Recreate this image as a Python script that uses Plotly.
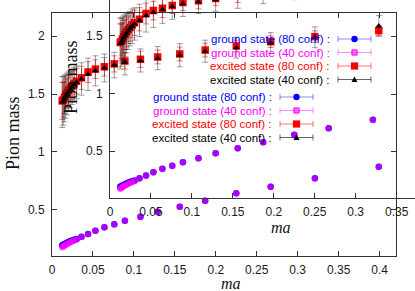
import plotly.graph_objects as go

# ---------------- data ----------------
ma = [0.0125, 0.0138, 0.0152, 0.0167, 0.0184, 0.0202, 0.0222, 0.0245, 0.027, 0.030,
      0.036, 0.044, 0.053, 0.064, 0.076, 0.089, 0.108, 0.129, 0.156, 0.187,
      0.225, 0.267, 0.321, 0.399]

ground_80 = [0.192, 0.197, 0.203, 0.209, 0.215, 0.221, 0.227, 0.233, 0.240, 0.247,
             0.267, 0.290, 0.319, 0.348, 0.374, 0.405, 0.440, 0.483, 0.526, 0.578,
             0.642, 0.699, 0.771, 0.872]
ground_40 = [0.175, 0.182, 0.190, 0.197, 0.204, 0.211, 0.218, 0.226, 0.234, 0.243,
             0.264, 0.288, 0.318, 0.347, 0.373, 0.404, 0.439, 0.482, 0.525, 0.577,
             0.641, 0.698, 0.770, 0.871]

excited_80 = [1.44, 1.45, 1.47, 1.49, 1.51, 1.53, 1.55, 1.57, 1.59, 1.61,
              1.64, 1.69, 1.715, 1.735, 1.76, 1.785, 1.80, 1.82, 1.846, 1.88,
              1.915, 1.952, 1.996, 2.047]
excited_80_err = [0.16, 0.15, 0.14, 0.14, 0.13, 0.13, 0.12, 0.12, 0.11, 0.11,
                  0.10, 0.09, 0.08, 0.08, 0.07, 0.07, 0.07, 0.06, 0.06, 0.06,
                  0.05, 0.05, 0.05, 0.04]
excited_40 = [1.43, 1.44, 1.46, 1.48, 1.50, 1.52, 1.54, 1.56, 1.58, 1.60,
              1.63, 1.67, 1.70, 1.725, 1.75, 1.775, 1.79, 1.81, 1.835, 1.87,
              1.90, 1.94, 1.99, 2.088]
excited_40_err = [0.22, 0.21, 0.20, 0.19, 0.18, 0.17, 0.16, 0.15, 0.15, 0.14,
                  0.14, 0.14, 0.13, 0.12, 0.11, 0.11, 0.10, 0.10, 0.10, 0.095,
                  0.09, 0.09, 0.09, 0.09]

series_labels = ["ground state (80 conf) :", "ground state (40 conf) :",
                 "excited state (80 conf) :", "excited state (40 conf) :"]
series_colors = ["#0000ff", "#ff00ff", "#ff0000", "#000000"]
y_title = "Pion mass"
x_title = "<i>ma</i>"

# ---------------- layout helpers ----------------
W, H = 415, 291


def px(x):
    return x / W


def py(y):
    return (H - y) / H


SANS = "Liberation Sans, Arial, sans-serif"
SERIF = "Liberation Serif, Times New Roman, serif"

fig = go.Figure()

for xa, ya in [("x", "y"), ("x2", "y2")]:
    fig.add_trace(go.Scatter(x=ma, y=ground_80, mode="markers", xaxis=xa, yaxis=ya,
                             marker=dict(color="#1a00ff", size=6.5, line=dict(width=0)),
                             showlegend=False, hoverinfo="skip"))
    fig.add_trace(go.Scatter(x=ma, y=ground_40, mode="markers", xaxis=xa, yaxis=ya,
                             marker=dict(color="rgba(255,0,255,0.62)", size=6.5, line=dict(width=0)),
                             showlegend=False, hoverinfo="skip"))
    fig.add_trace(go.Scatter(x=ma, y=excited_80, mode="markers", xaxis=xa, yaxis=ya,
                             error_y=dict(type="data", array=excited_80_err, color="rgba(220,0,0,0.5)",
                                          thickness=1, width=3),
                             marker=dict(symbol="square", color="#ff0000", size=7.5, line=dict(width=0)),
                             showlegend=False, hoverinfo="skip"))
    fig.add_trace(go.Scatter(x=ma, y=excited_40, mode="markers", xaxis=xa, yaxis=ya,
                             error_y=dict(type="data", array=excited_40_err, color="rgba(0,0,0,0.38)",
                                          thickness=1, width=3),
                             marker=dict(symbol="triangle-up", color="#000000", size=6, line=dict(width=0)),
                             showlegend=False, hoverinfo="skip"))

# pixel geometry of the two frames
MAIN_L, MAIN_R, MAIN_T, MAIN_B = 52, 396, 13, 256
X_SCALE = (MAIN_R - MAIN_L) / 0.42
Y_SCALE = (MAIN_B - MAIN_T) / 2.1
INS_L, INS_B = 110, 197.5

axis_common = dict(showgrid=False, zeroline=False, showline=True, linecolor="#333333", linewidth=1,
                   ticks="inside", ticklen=5, tickcolor="#333333", tickwidth=1,
                   tickfont=dict(family=SANS, size=12, color="#1a1a1a"), automargin=False)

fig.update_layout(
    width=W, height=H,
    margin=dict(l=0, r=0, t=0, b=0),
    paper_bgcolor="white", plot_bgcolor="rgba(0,0,0,0)",
    showlegend=False,
    xaxis=dict(domain=[px(MAIN_L), px(MAIN_R)], range=[0, 0.42], dtick=0.05, tick0=0,
               anchor="y", mirror="ticks", ticklabelstandoff=3, **axis_common),
    yaxis=dict(domain=[py(MAIN_B), py(MAIN_T)], range=[0.1, 2.2], dtick=0.5, tick0=0,
               anchor="x", mirror="ticks", ticklabelstandoff=4, **axis_common),
    xaxis2=dict(domain=[px(INS_L), 1], range=[0, (W - INS_L) / X_SCALE], dtick=0.05, tick0=0,
                anchor="y2", mirror=False, ticklabelstandoff=3, **axis_common),
    yaxis2=dict(domain=[py(INS_B), 1], range=[0.1, 0.1 + INS_B / Y_SCALE], dtick=0.5, tick0=0,
                anchor="x2", mirror=False, ticklabelstandoff=4, **axis_common),
)

annotations = []
shapes = []

# axis titles
for cx, cy in [(13, 133), (71, 77)]:
    annotations.append(dict(x=px(cx), y=py(cy), xref="paper", yref="paper", text=y_title,
                            textangle=-90, showarrow=False, xanchor="center", yanchor="middle",
                            font=dict(family=SERIF, size=18, color="#111111")))
for cx, cy in [(231, 283), (281, 227)]:
    annotations.append(dict(x=px(cx), y=py(cy), xref="paper", yref="paper", text=x_title,
                            showarrow=False, xanchor="center", yanchor="middle", borderpad=0,
                            font=dict(family=SERIF, size=16, color="#111111")))

# gnuplot-style keys: text, then sample line with error caps and marker
sample_line_colors = ["rgba(0,0,255,0.45)", "rgba(255,0,255,0.45)",
                      "rgba(255,0,0,0.55)", "rgba(0,0,0,0.6)"]
for (text_right, rows_y) in [(274, [97, 110.5, 124, 137.5]), (332, [39, 52.5, 66, 79.5])]:
    s0, s1 = text_right + 6, text_right + 39
    mid = (s0 + s1) / 2
    for i, ry in enumerate(rows_y):
        annotations.append(dict(x=px(text_right), y=py(ry), xref="paper", yref="paper",
                                text=series_labels[i], showarrow=False, xanchor="right",
                                yanchor="middle", font=dict(family=SANS, size=11.5,
                                                            color=series_colors[i])))
        lc = sample_line_colors[i]
        shapes.append(dict(type="line", xref="paper", yref="paper", x0=px(s0), x1=px(s1),
                           y0=py(ry), y1=py(ry), line=dict(color=lc, width=1)))
        for cxp in (s0, s1):
            shapes.append(dict(type="line", xref="paper", yref="paper", x0=px(cxp), x1=px(cxp),
                               y0=py(ry - 3), y1=py(ry + 3), line=dict(color=lc, width=1)))
        c = series_colors[i]
        if i == 0:
            shapes.append(dict(type="circle", xref="paper", yref="paper", x0=px(mid - 3.2),
                               x1=px(mid + 3.2), y0=py(ry + 3.2), y1=py(ry - 3.2),
                               fillcolor=c, line=dict(width=0)))
        elif i == 1:
            shapes.append(dict(type="rect", xref="paper", yref="paper", x0=px(mid - 2.6),
                               x1=px(mid + 2.6), y0=py(ry + 2.6), y1=py(ry - 2.6),
                               fillcolor="rgba(255,0,255,0.55)", line=dict(width=1, color=c)))
        elif i == 2:
            shapes.append(dict(type="rect", xref="paper", yref="paper", x0=px(mid - 3.6),
                               x1=px(mid + 3.6), y0=py(ry + 3.6), y1=py(ry - 3.6),
                               fillcolor=c, line=dict(width=0)))
        else:
            path = "M {} {} L {} {} L {} {} Z".format(px(mid - 3), py(ry + 2.5), px(mid + 3),
                                                      py(ry + 2.5), px(mid), py(ry - 3))
            shapes.append(dict(type="path", xref="paper", yref="paper", path=path,
                               fillcolor=c, line=dict(width=0)))

fig.update_layout(annotations=annotations, shapes=shapes)

# remove the default 8px page margin so the figure sits at the window's corner
fig.write_html("out.html", config={"displayModeBar": False},
               post_script="document.body.style.margin='0px';")
